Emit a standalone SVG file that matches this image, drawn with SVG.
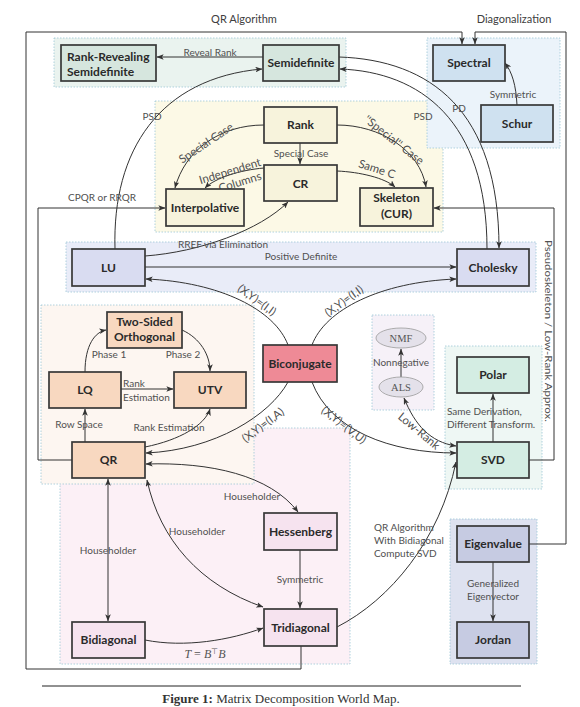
<svg xmlns="http://www.w3.org/2000/svg" width="580" height="707" viewBox="0 0 580 707">
<defs>
<style>
.grp{stroke:#9cc6d6;stroke-width:0.8;stroke-dasharray:1.5,1.5}
.nd{stroke:#383838;stroke-width:1.7}
.nt{font-family:Lato,"Open Sans",sans-serif;font-weight:bold;font-size:12px;fill:#2a2a2a;text-anchor:middle}
.ntl{font-family:Lato,"Open Sans",sans-serif;font-weight:bold;font-size:12px;fill:#2a2a2a}
.el{font-family:Lato,"Open Sans",sans-serif;font-size:10px;fill:#505050;text-anchor:middle}
.er{font-family:Lato,"Open Sans",sans-serif;font-size:11.5px;fill:#505050;text-anchor:middle}
.ell{font-family:Lato,"Open Sans",sans-serif;font-size:10px;fill:#505050}
.tl{font-family:Lato,"Open Sans",sans-serif;font-size:11px;fill:#404040;text-anchor:middle}
.ln{fill:none;stroke:#333;stroke-width:1}
.a{marker-end:url(#ah)}
.aa{marker-end:url(#ah);marker-start:url(#ah)}
.ser{font-family:"Liberation Serif",serif;fill:#555;font-size:10.5px;text-anchor:middle}
</style>
<marker id="ah" viewBox="0 0 10 8" refX="9.5" refY="4" markerWidth="7" markerHeight="5.6" orient="auto-start-reverse" markerUnits="userSpaceOnUse">
<path d="M0,0 L10,4 L0,8 L2.5,4 z" fill="#333"/>
</marker>
</defs>

<g id="groups">
<rect class="grp" x="54" y="38" width="292" height="49" fill="#eaf3ef"/>
<rect class="grp" x="155" y="101" width="288" height="131" fill="#fcf9e6"/>
<rect class="grp" x="427" y="38" width="133" height="110" fill="#ebf3fa"/>
<rect class="grp" x="66" y="242" width="470" height="50" fill="#e9ecf8"/>
<rect class="grp" x="60" y="428" width="290" height="236" fill="#fcf0f6"/>
<rect class="grp" x="41" y="305" width="213" height="179" fill="#fdf6f1"/>
<rect class="grp" x="372" y="315" width="62" height="95" fill="#f6f1f8"/>
<rect class="grp" x="445" y="346" width="97" height="143" fill="#eef7f4"/>
<rect class="grp" x="450" y="519" width="87" height="145" fill="#dee2f0"/>
</g>

<g id="connectors">
<path class="ln a" d="M301,646 V669 H26 V32 H462 V44"/>
<path class="ln a" d="M529,544 H566 V32 H475 V44"/>
<path class="ln a" d="M72,460 H38 V208 H165"/>
<path class="ln a" d="M529,460 H554 V208 H434"/>
<path class="ln a" d="M263,57 H157"/>
<path class="ln a" d="M115,249 C112,150 160,78 262,69"/>
<path class="ln a" d="M339,57 C430,60 499,110 499,248"/>
<path class="ln a" d="M487,249 C487,120 420,72 340,69"/>
<path class="ln a" d="M517,105 C516,85 512,72 505,63"/>
<path class="ln a" d="M264,125 C220,125 185,150 175,188"/>
<path class="ln a" d="M300,143 V164"/>
<path class="ln a" d="M264,168 C240,170 215,178 205,188"/>
<path class="ln a" d="M337,171 C360,172 385,178 395,187"/>
<path class="ln a" d="M337,125 C380,125 420,150 426,187"/>
<path class="ln a" d="M145,256 C200,252 260,230 288,202"/>
<path class="ln a" d="M145,267 H456"/>
<path class="ln a" d="M288,345 C275,310 220,282 146,279"/>
<path class="ln a" d="M312,345 C325,310 380,282 456,279"/>
<path class="ln a" d="M288,382 C270,415 215,450 146,453"/>
<path class="ln a" d="M312,382 C330,430 390,453 456,453"/>
<path class="ln a" d="M85,442 V409"/>
<path class="ln a" d="M85,372 C85,345 95,332 106,330"/>
<path class="ln a" d="M182,330 C200,338 210,355 210,371"/>
<path class="ln a" d="M121,389 H173"/>
<path class="ln a" d="M145,447 C180,440 205,425 210,409"/>
<path class="ln aa" d="M108,479 V621"/>
<path class="ln aa" d="M147,480 C160,540 200,585 263,607"/>
<path class="ln aa" d="M146,464 C210,462 270,475 298,512"/>
<path class="ln a" d="M300,550 V608"/>
<path class="ln a" d="M145,640 C185,648 230,640 263,628"/>
<path class="ln a" d="M337,627 C390,600 440,540 456,462"/>
<path class="ln a" d="M493,442 V394"/>
<path class="ln a" d="M401,377 V349"/>
<path class="ln aa" d="M404,398 C415,425 430,442 456,446"/>
<path class="ln a" d="M493,562 V621"/>
</g>

<g id="labels">
<text class="tl" x="244" y="23">QR Algorithm</text>
<text class="tl" x="514" y="23">Diagonalization</text>
<text class="el" x="210" y="55.5" font-size="10.5">Reveal Rank</text>
<text class="el" x="152" y="119.5" font-size="10.5">PSD</text>
<text class="el" x="423" y="119.5" font-size="10.5">PSD</text>
<text class="el" x="459" y="111.5" font-size="10.5">PD</text>
<text class="el" x="513" y="97.5">Symmetric</text>
<text class="er" transform="translate(206,143) rotate(-34)" y="4">Special Case</text>
<text class="el" x="301" y="156.5" font-size="10.5">Special Case</text>
<text class="er" transform="translate(230,171) rotate(-17)" y="4" font-size="11">Independent</text>
<text class="er" transform="translate(240,182) rotate(-17)" y="4" font-size="11">Columns</text>
<text class="er" transform="translate(377,169) rotate(18)" y="4">Same C</text>
<text class="er" transform="translate(394,140) rotate(38)" y="4">''Special'' Case</text>
<text class="el" x="102" y="200.5" font-size="10.5">CPQR or RRQR</text>
<text class="el" x="223" y="247.5" font-size="10.5">RREF via Elimination</text>
<text class="el" x="301" y="259.5">Positive Definite</text>
<text class="el" transform="translate(548,331) rotate(90)" y="3.5" textLength="182" lengthAdjust="spacingAndGlyphs">Pseudoskeleton / Low-Rank Approx.</text>
<text class="er" transform="translate(257,300) rotate(36)" y="4">(X,Y)=(I,I)</text>
<text class="er" transform="translate(344,301) rotate(-36)" y="4">(X,Y)=(I,I)</text>
<text class="er" transform="translate(263,425) rotate(-37)" y="4">(X,Y)=(I,A)</text>
<text class="er" transform="translate(344,425) rotate(38)" y="4">(X,Y)=(V,U)</text>
<text class="el" x="109" y="357.5" font-size="10.5">Phase 1</text>
<text class="el" x="183" y="357.5" font-size="10.5">Phase 2</text>
<text class="ell" x="123" y="386.5" font-size="10.5">Rank</text>
<text class="ell" x="123" y="400.5" font-size="10.5">Estimation</text>
<text class="el" x="79" y="427.5" font-size="10.5">Row Space</text>
<text class="el" x="169" y="430.5" font-size="10.5">Rank Estimation</text>
<text class="el" x="108" y="553.5">Householder</text>
<text class="el" x="197" y="534.5">Householder</text>
<text class="el" x="252" y="499.5">Householder</text>
<text class="el" x="300" y="582.5">Symmetric</text>
<text x="205" y="658" font-family="Liberation Serif, serif" font-size="12" fill="#555" text-anchor="middle"><tspan font-style="italic">T</tspan> = <tspan font-style="italic">B</tspan><tspan font-size="8" dy="-4">⊤</tspan><tspan font-style="italic" dy="4">B</tspan></text>
<text class="el" x="401" y="365.5">Nonnegative</text>
<text class="er" transform="translate(419,431) rotate(40)" y="4">Low-Rank</text>
<text class="ell" x="447" y="415" font-size="10.5">Same Derivation,</text>
<text class="ell" x="447" y="428" font-size="10.5">Different Transform.</text>
<text class="ell" x="374" y="531" font-size="10.5">QR Algorithm</text>
<text class="ell" x="374" y="544" font-size="10.5">With Bidiagonal</text>
<text class="ell" x="374" y="557" font-size="10.5">Compute SVD</text>
<text class="ell" x="467" y="587" font-size="10.5">Generalized</text>
<text class="ell" x="467" y="600" font-size="10.5">Eigenvector</text>
</g>

<g id="rrs"><rect class="nd" x="61" y="45" width="95" height="36" fill="#d6e6de"/><text class="ntl" x="67" y="61">Rank-Revealing</text><text class="ntl" x="67" y="75.5">Semidefinite</text></g>
<g id="semidefinite"><rect class="nd" x="263" y="45" width="76" height="36" fill="#d6e6de"/><text class="nt" x="301" y="67">Semidefinite</text></g>
<g id="spectral"><rect class="nd" x="433" y="45" width="72" height="36" fill="#cfe1f0"/><text class="nt" x="469" y="67">Spectral</text></g>
<g id="schur"><rect class="nd" x="481" y="105" width="72" height="37" fill="#cfe1f0"/><text class="nt" x="517" y="127.5">Schur</text></g>
<g id="rank"><rect class="nd" x="264" y="107" width="73" height="36" fill="#f7f3dc"/><text class="nt" x="300.5" y="129">Rank</text></g>
<g id="cr"><rect class="nd" x="264" y="165" width="73" height="36" fill="#f7f3dc"/><text class="nt" x="300.5" y="188" font-size="13">CR</text></g>
<g id="interpolative"><rect class="nd" x="166" y="189" width="78" height="37" fill="#f7f3dc"/><text class="nt" x="205" y="211.5">Interpolative</text></g>
<g id="skeleton"><rect class="nd" x="360" y="188" width="73" height="38" fill="#f7f3dc"/><text class="nt" x="396.5" y="202">Skeleton</text><text class="nt" x="396.5" y="218">(CUR)</text></g>
<g id="lu"><rect class="nd" x="72" y="249" width="73" height="37" fill="#d9dcf1"/><text class="nt" x="108.5" y="271.5">LU</text></g>
<g id="cholesky"><rect class="nd" x="457" y="249" width="72" height="37" fill="#d9dcf1"/><text class="nt" x="493" y="271.5">Cholesky</text></g>
<g id="twosided"><rect class="nd" x="107" y="312" width="75" height="36" fill="#f8d8c0"/><text class="nt" x="144.5" y="326">Two-Sided</text><text class="nt" x="144.5" y="340.5">Orthogonal</text></g>
<g id="lq"><rect class="nd" x="49" y="372" width="72" height="36" fill="#f8d8c0"/><text class="nt" x="85" y="394">LQ</text></g>
<g id="utv"><rect class="nd" x="174" y="372" width="72" height="36" fill="#f8d8c0"/><text class="nt" x="210" y="394">UTV</text></g>
<g id="qr"><rect class="nd" x="72" y="442" width="73" height="36" fill="#f8d8c0"/><text class="nt" x="108.5" y="464">QR</text></g>
<g id="biconjugate"><rect class="nd" x="263" y="345" width="74" height="37" fill="#ee8a96"/><text class="nt" x="300" y="367.5">Biconjugate</text></g>
<g id="nmf"><ellipse cx="401" cy="338" rx="25" ry="10" fill="#e4e1ea" stroke="#9a9a9a" stroke-width="0.8"/><text class="ser" x="401" y="341.5">NMF</text></g>
<g id="als"><ellipse cx="401" cy="387" rx="22" ry="10" fill="#e4e1ea" stroke="#9a9a9a" stroke-width="0.8"/><text class="ser" x="401" y="390.5">ALS</text></g>
<g id="polar"><rect class="nd" x="457" y="357" width="72" height="36" fill="#d4ede3"/><text class="nt" x="493" y="379">Polar</text></g>
<g id="svd"><rect class="nd" x="457" y="442" width="72" height="36" fill="#d4ede3"/><text class="nt" x="493" y="464">SVD</text></g>
<g id="hessenberg"><rect class="nd" x="264" y="513" width="73" height="37" fill="#f6e3ef"/><text class="nt" x="300.5" y="535.5">Hessenberg</text></g>
<g id="tridiagonal"><rect class="nd" x="264" y="609" width="73" height="37" fill="#f6e3ef"/><text class="nt" x="300.5" y="631.5">Tridiagonal</text></g>
<g id="bidiagonal"><rect class="nd" x="72" y="622" width="73" height="36" fill="#f6e3ef"/><text class="nt" x="108.5" y="644">Bidiagonal</text></g>
<g id="eigenvalue"><rect class="nd" x="457" y="526" width="72" height="36" fill="#c6cbe2"/><text class="nt" x="493" y="548">Eigenvalue</text></g>
<g id="jordan"><rect class="nd" x="457" y="622" width="72" height="36" fill="#c6cbe2"/><text class="nt" x="493" y="644">Jordan</text></g>

<g id="caption">
<line x1="42" y1="686" x2="521" y2="686" stroke="#222" stroke-width="1"/>
<text x="281" y="703" font-family="Liberation Serif, serif" font-size="13" fill="#333" text-anchor="middle"><tspan font-weight="bold">Figure 1:</tspan> Matrix Decomposition World Map.</text>
</g>
</svg>
